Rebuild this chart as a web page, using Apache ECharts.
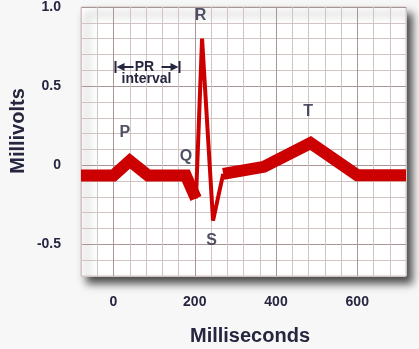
<!DOCTYPE html>
<html><head><meta charset="utf-8">
<script src="https://cdn.jsdelivr.net/npm/echarts@6/dist/echarts.min.js"></script>
<style>html,body{margin:0;padding:0;background:#f7f7f7;}#c{width:419px;height:349px;}</style>
</head><body><div id="c"></div>
<script>
// ECG waveform (time in ms, amplitude in mV)
const timesMs    = [-80, 0, 40, 85, 178, 203, 218, 245, 270, 370, 485, 600, 720];
const millivolts = [-0.065, -0.065, 0.028, -0.065, -0.065, -0.21, 0.80, -0.35, -0.055, -0.01, 0.14, -0.063, -0.063];
const waveNames  = ['P', 'Q', 'R', 'S', 'T'];
const waveIdx    = [2, 5, 6, 7, 10];
const qrsStart = 5, qrsEnd = 8;
const xTickValues = [0, 200, 400, 600];
const yTickValues = [-0.5, 0, 0.5, 1.0];
const yTickTexts  = ['-0.5', '0', '0.5', '1.0'];
const prInterval  = [0, 160];
const prLevel     = 0.62;

const INK = '#262640';
const FONT = '"Liberation Sans", Arial, Helvetica, sans-serif';
const MINOR = '#d3c4c4', MAJOR = '#a89595';
const gridColors = [MINOR, MINOR, MAJOR, MINOR, MINOR];

const pts = timesMs.map((t, i) => [t, millivolts[i]]);
const thickData = pts.slice(0, qrsStart + 1).concat([[null, null]], pts.slice(qrsEnd));
const thinData = pts.slice(qrsStart, qrsEnd + 1);
const labelOffsets = [[-5, -28], [-10, -42], [-1.5, -23], [-1.5, 19.5], [-2.5, -31.5]];

const chart = echarts.init(document.getElementById('c'), null, {renderer: 'canvas'});
chart.setOption({
  animation: false,
  backgroundColor: '#f7f7f7',
  grid: {
    show: true, left: 81, top: 0, width: 325, height: 276,
    backgroundColor: '#ffffff', borderColor: MINOR, borderWidth: 1,
    shadowColor: 'rgba(0,0,0,0.7)', shadowBlur: 8, shadowOffsetX: 6, shadowOffsetY: 7
  },
  xAxis: {
    type: 'value', min: -80, max: 720, interval: 40,
    axisLine: {show: false}, axisTick: {show: false},
    splitLine: {show: true, showMinLine: true, showMaxLine: true, lineStyle: {color: gridColors, width: 1}},
    axisLabel: {
      margin: 19, fontSize: 14, fontWeight: 'bold', color: INK, fontFamily: FONT,
      formatter: v => xTickValues.some(t => Math.abs(t - v) < 1e-6) ? String(Math.round(v)) : ''
    }
  },
  yAxis: {
    type: 'value', min: -0.7, max: 1.0, interval: 0.1,
    axisLine: {show: false}, axisTick: {show: false},
    splitLine: {show: true, showMinLine: true, showMaxLine: true, lineStyle: {color: gridColors, width: 1}},
    axisLabel: {
      margin: 20, fontSize: 14, fontWeight: 'bold', color: INK, fontFamily: FONT,
      padding: [8, 0, 0, 0],
      formatter: v => {
        const k = yTickValues.findIndex(t => Math.abs(t - v) < 1e-6);
        return k >= 0 ? yTickTexts[k] : '';
      }
    }
  },
  series: [
    {
      type: 'line', data: thickData, showSymbol: false, symbol: 'none', connectNulls: false,
      lineStyle: {color: '#cc0000', width: 12, join: 'miter', miterLimit: 4, cap: 'butt'},
      silent: true, z: 3
    },
    {
      type: 'line', data: thinData, showSymbol: false, symbol: 'none',
      lineStyle: {color: '#cc0000', width: 4, join: 'bevel'},
      silent: true, z: 3
    },
    {
      type: 'scatter', symbolSize: 0, silent: true, z: 5,
      data: waveIdx.map((i, k) => ({value: pts[i], label: {offset: labelOffsets[k]}})),
      label: {
        show: true, position: 'inside', color: INK, fontSize: 16, fontWeight: 'bold', fontFamily: FONT,
        formatter: p => waveNames[p.dataIndex]
      }
    }
  ]
});

// axis titles and PR interval annotation
const pL = chart.convertToPixel({gridIndex: 0}, [prInterval[0], prLevel]);
const pR = chart.convertToPixel({gridIndex: 0}, [prInterval[1], prLevel]);
const xL = Math.round(pL[0]) + 1.5, xR = Math.round(pR[0]) + 0.5, y = Math.round(pL[1]);
const xm = (xL + xR) / 2;
const stroke = {stroke: INK, lineWidth: 2};
chart.setOption({
  graphic: [
    {type: 'text', x: 250, y: 336, style: {text: 'Milliseconds', fill: INK, font: 'bold 20px ' + FONT, align: 'center', verticalAlign: 'middle'}},
    {type: 'text', x: 18, y: 131, rotation: Math.PI / 2, style: {text: 'Millivolts', fill: INK, font: 'bold 20px ' + FONT, align: 'center', verticalAlign: 'middle'}},
    {type: 'line', shape: {x1: xL, y1: y - 6, x2: xL, y2: y + 6}, style: stroke, z: 10},
    {type: 'line', shape: {x1: xL + 8, y1: y, x2: xL + 18, y2: y}, style: stroke, z: 10},
    {type: 'polygon', shape: {points: [[xL + 1, y], [xL + 9, y - 4], [xL + 9, y + 4]]}, style: {fill: INK}, z: 10},
    {type: 'line', shape: {x1: xR - 18, y1: y, x2: xR - 8, y2: y}, style: stroke, z: 10},
    {type: 'polygon', shape: {points: [[xR - 1, y], [xR - 9, y - 4], [xR - 9, y + 4]]}, style: {fill: INK}, z: 10},
    {type: 'line', shape: {x1: xR, y1: y - 6, x2: xR, y2: y + 6}, style: stroke, z: 10},
    {type: 'text', x: xm - 3, y: y + 0.5, style: {text: 'PR', fill: INK, font: 'bold 14px ' + FONT, align: 'center', verticalAlign: 'middle'}, z: 10},
    {type: 'text', x: xm - 1, y: y + 12, style: {text: 'interval', fill: INK, font: 'bold 14px ' + FONT, align: 'center', verticalAlign: 'middle'}, z: 10}
  ]
});
</script>
</body></html>
